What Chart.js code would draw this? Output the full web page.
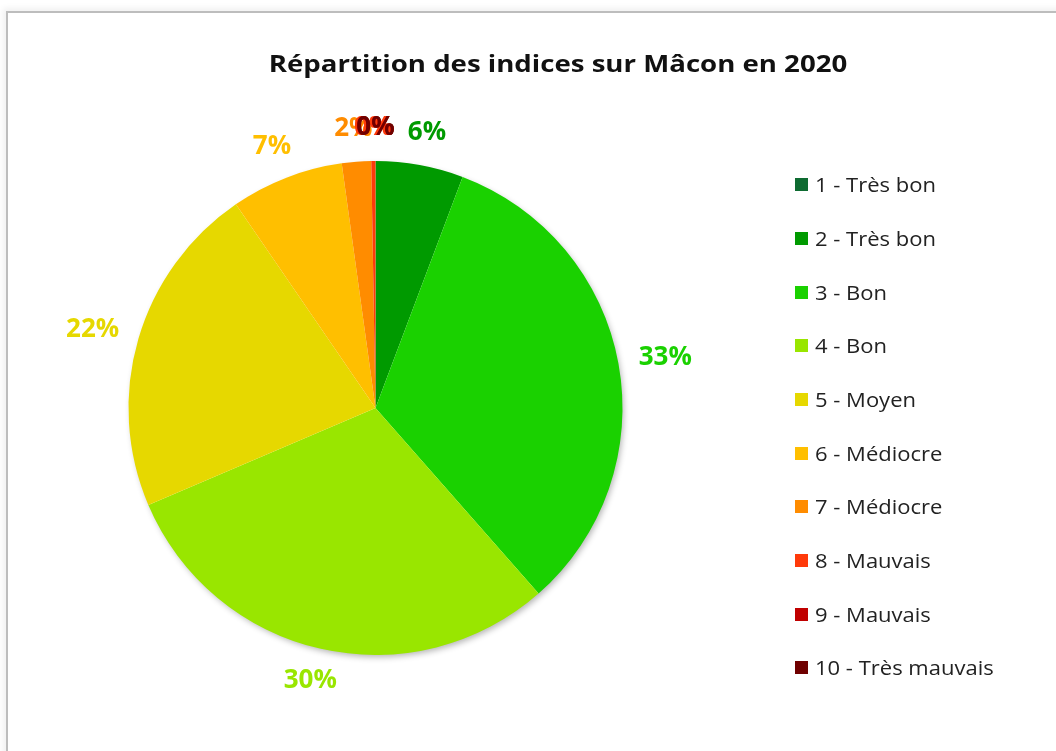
<!DOCTYPE html>
<html>
<head>
<meta charset="utf-8">
<script src="https://cdn.jsdelivr.net/npm/chart.js@4"></script>
<style>
  html, body { margin: 0; padding: 0; background: #fff; overflow: hidden; }
  body { width: 1056px; height: 751px; position: relative; }
  #frame {
    position: absolute; left: 6px; top: 11px; width: 1200px; height: 900px;
    border-left: 2px solid #bdbdbd; border-top: 2px solid #bdbdbd;
    box-shadow: -3px -3px 6px rgba(0,0,0,0.06);
    background: #fff;
  }
  #chartBox { position: absolute; left: 0; top: 0; width: 1100px; height: 738px; }
  #title {
    position: absolute; left: 0; top: 34px; width: 1100px; text-align: center;
    font-family: 'Open Sans', sans-serif; font-weight: bold; font-size: 23px; color: #111;
    transform: scaleX(1.2);
  }
  #legend {
    position: absolute; left: 787px; top: 145px; margin: 0; padding: 0; list-style: none;
    font-family: 'Open Sans', sans-serif; font-size: 20px; color: #222;
  }
  #legend li { height: 53.67px; display: flex; align-items: center; }
  #legend span.box { display: inline-block; width: 13px; height: 13px; margin-right: 7px; }
  #legend span.txt { display: inline-block; transform: scaleX(1.1); transform-origin: left center; }
</style>
</head>
<body>
<div id="frame">
  <div id="chartBox"><canvas id="pie"></canvas></div>
  <div id="title"></div>
  <ul id="legend"></ul>
</div>
<script>
// catégories et valeurs (jours par indice, 2020)
const categories = ['1 - Très bon', '2 - Très bon', '3 - Bon', '4 - Bon', '5 - Moyen',
  '6 - Médiocre', '7 - Médiocre', '8 - Mauvais', '9 - Mauvais', '10 - Très mauvais']
const dayCounts = [0, 21, 120, 110, 80, 27, 7, 1, 0, 0]
const sliceColors = ['#0e6b31', '#009a00', '#1ad100', '#99e600', '#e6d800',
  '#ffbf00', '#ff8c00', '#ff3a0a', '#c00000', '#700000']
const chartTitle = 'Répartition des indices sur Mâcon en 2020'

document.getElementById('title').textContent = chartTitle

// légende
const legend = document.getElementById('legend')
categories.forEach((cat, i) => {
  const li = document.createElement('li')
  li.innerHTML = `<span class="box" style="background:${sliceColors[i]}"></span><span class="txt">${cat}</span>`
  legend.appendChild(li)
})

// ombre légère sous le camembert
const shadowPlugin = {
  id: 'pieShadow',
  beforeDatasetsDraw(chart) {
    const arc = chart.getDatasetMeta(0).data[0]
    if (!arc) return
    const ctx = chart.ctx
    ctx.save()
    ctx.shadowColor = 'rgba(0,0,0,0.3)'
    ctx.shadowBlur = 6
    ctx.shadowOffsetX = 2
    ctx.shadowOffsetY = 3
    ctx.fillStyle = '#fff'
    ctx.beginPath()
    ctx.arc(arc.x, arc.y, arc.outerRadius - 1, 0, Math.PI * 2)
    ctx.fill()
    ctx.restore()
  }
}

// étiquettes de pourcentage à l'extérieur
const labelPlugin = {
  id: 'pctLabels',
  afterDatasetsDraw(chart) {
    const ctx = chart.ctx
    const data = chart.data.datasets[0].data
    const total = data.reduce((a, b) => a + b, 0)
    ctx.save()
    ctx.font = "bold 26px 'Open Sans', sans-serif"
    ctx.textAlign = 'center'
    ctx.textBaseline = 'middle'
    chart.getDatasetMeta(0).data.forEach((arc, i) => {
      const mid = (arc.startAngle + arc.endAngle) / 2
      const r = arc.outerRadius + 21
      const txt = Math.round(data[i] / total * 100) + '%'
      const hw = ctx.measureText(txt).width / 2
      const hh = 12
      const x = arc.x + Math.cos(mid) * (r + hw)
      const y = arc.y + Math.sin(mid) * (r + hh)
      ctx.fillStyle = sliceColors[i]
      ctx.fillText(txt, x, y)
    })
    ctx.restore()
  }
}

new Chart(document.getElementById('pie'), {
  type: 'pie',
  data: {
    labels: categories,
    datasets: [{
      data: dayCounts,
      backgroundColor: sliceColors,
      borderWidth: 0
    }]
  },
  options: {
    responsive: true,
    maintainAspectRatio: false,
    animation: false,
    layout: { padding: { left: 120.5, right: 485.5, top: 148, bottom: 96 } },
    plugins: {
      legend: { display: false },
      tooltip: { enabled: false },
      title: { display: false }
    }
  },
  plugins: [shadowPlugin, labelPlugin]
})
</script>
</body>
</html>
